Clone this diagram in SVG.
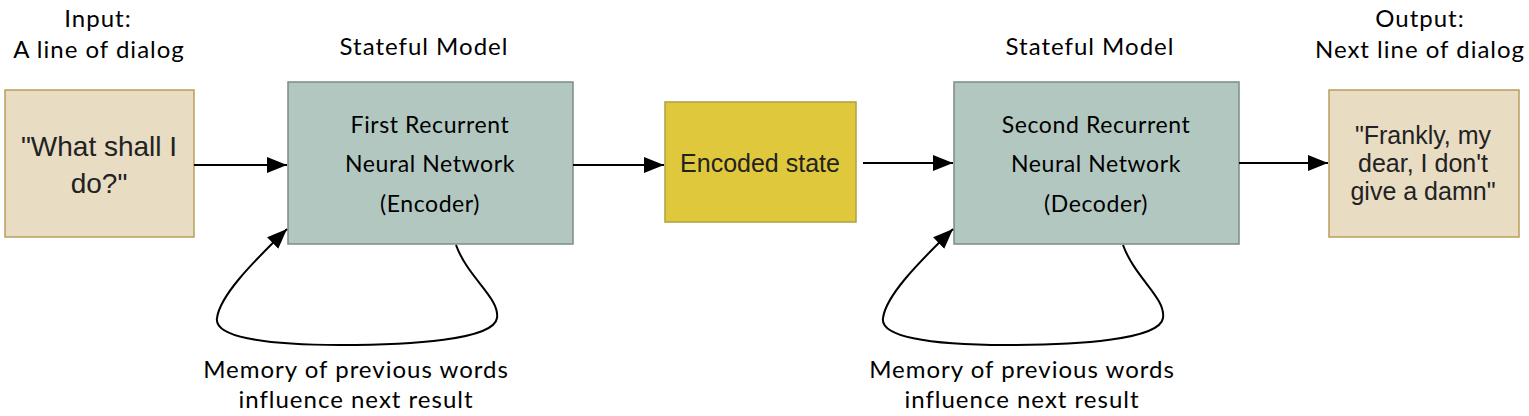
<svg xmlns="http://www.w3.org/2000/svg" width="1529" height="416" viewBox="0 0 1529 416">
<defs>
<marker id="ah" viewBox="0 0 10 10" refX="10" refY="5" markerWidth="20" markerHeight="20" markerUnits="userSpaceOnUse" orient="auto">
<path d="M0,1 L10,5 L0,9 z" fill="#000"/>
</marker>
<style>
.lbl{font-family:"Lato","Noto Sans",sans-serif;font-size:24px;letter-spacing:1px;fill:#000;text-anchor:middle}
.in{font-size:23px;letter-spacing:0.6px}
.box{font-family:"Liberation Sans",Arial,sans-serif;fill:#222;text-anchor:middle}
.tan{fill:#e8dcc3;stroke:#b89f5c;stroke-width:1.5}
.teal{fill:#b2c7c0;stroke:#7c8c87;stroke-width:1.5}
.yel{fill:#e0c83c;stroke:#b0a040;stroke-width:1.5}
.con{fill:none;stroke:#000;stroke-width:2}
</style>
</defs>
<rect width="1529" height="416" fill="#fff"/>
<g id="input">
<text class="lbl" x="98" y="27">Input:</text>
<text class="lbl" x="99" y="58">A line of dialog</text>
<rect class="tan" x="5" y="90" width="189" height="147"/>
<text class="box" font-size="28" x="99" y="156">"What shall I</text>
<text class="box" font-size="28" x="99" y="193">do?"</text>
</g>
<g id="encoder">
<text class="lbl" x="424" y="55">Stateful Model</text>
<rect class="teal" x="288" y="82" width="285" height="162"/>
<text class="lbl in" x="430" y="133">First Recurrent</text>
<text class="lbl in" x="430" y="172">Neural Network</text>
<text class="lbl in" x="430" y="212">(Encoder)</text>
<text class="lbl" x="356" y="378">Memory of previous words</text>
<text class="lbl" x="356" y="408">influence next result</text>
</g>
<g id="state">
<rect class="yel" x="665" y="102" width="191" height="120"/>
<text class="box" font-size="25" fill="#000" x="760" y="172">Encoded state</text>
</g>
<g id="decoder">
<text class="lbl" x="1090" y="55">Stateful Model</text>
<rect class="teal" x="954" y="82" width="285" height="162"/>
<text class="lbl in" x="1096" y="133">Second Recurrent</text>
<text class="lbl in" x="1096" y="172">Neural Network</text>
<text class="lbl in" x="1096" y="212">(Decoder)</text>
<text class="lbl" x="1022" y="378">Memory of previous words</text>
<text class="lbl" x="1022" y="408">influence next result</text>
</g>
<g id="output">
<text class="lbl" x="1420" y="27">Output:</text>
<text class="lbl" x="1420" y="58">Next line of dialog</text>
<rect class="tan" x="1329" y="90" width="190" height="147"/>
<text class="box" font-size="25" x="1423" y="144">"Frankly, my</text>
<text class="box" font-size="25" x="1423" y="172">dear, I don't</text>
<text class="box" font-size="25" x="1423" y="200">give a damn"</text>
</g>
<g id="connectors">
<line class="con" x1="194" y1="165" x2="287" y2="165" marker-end="url(#ah)"/>
<line class="con" x1="573" y1="165" x2="664" y2="165" marker-end="url(#ah)"/>
<line class="con" x1="863" y1="163" x2="953" y2="163" marker-end="url(#ah)"/>
<line class="con" x1="1239" y1="163" x2="1328" y2="163" marker-end="url(#ah)"/>
<path class="con" d="M456,245 C468,278 500,298 497,318 C494,340 410,345 340,345 C260,345 214,336 217,318 C220,296 250,265 287,229" marker-end="url(#ah)"/>
<path class="con" d="M1123,245 C1135,278 1166,298 1163,318 C1160,340 1076,345 1006,345 C926,345 880,336 883,318 C886,296 916,265 953,229" marker-end="url(#ah)"/>
</g>
</svg>
